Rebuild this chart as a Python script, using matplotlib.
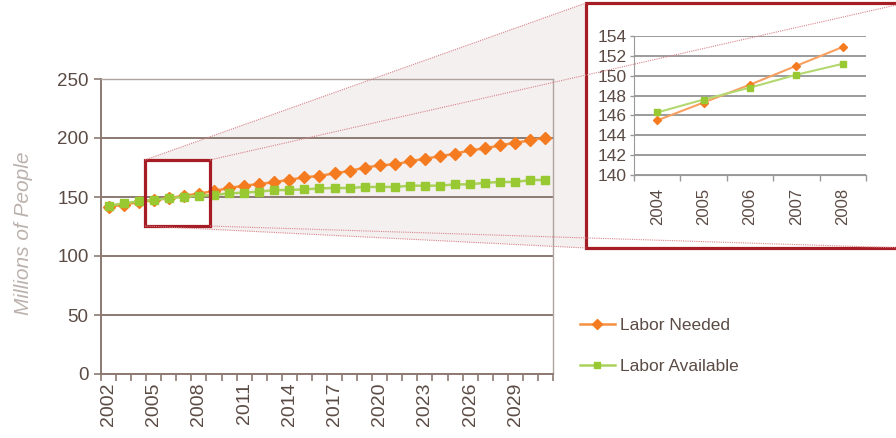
import matplotlib.pyplot as plt
from matplotlib.patches import Polygon, Rectangle
from matplotlib.lines import Line2D
import numpy as np

plt.rcParams['font.family'] = ['Liberation Sans', 'DejaVu Sans']

# workforce projection, millions of people
years = list(range(2002, 2032))
labor_needed = [141.5, 143.6, 145.5, 147.3, 149.1, 151.0, 152.9, 155.1, 157.6, 159.6,
                161.0, 162.6, 164.6, 166.7, 167.8, 170.1, 172.0, 174.9, 176.8, 177.7,
                180.2, 182.5, 184.5, 186.7, 189.6, 191.2, 193.8, 196.0, 198.0, 200.3]
labor_available = [142.6, 144.6, 146.3, 147.6, 148.8, 150.1, 151.2, 151.7, 153.1, 153.7,
                   154.5, 155.9, 155.9, 156.5, 157.3, 157.6, 157.6, 158.5, 158.5, 158.5,
                   159.6, 159.6, 159.6, 160.7, 160.7, 162.1, 162.7, 162.7, 164.4, 164.4]
year_labels = list(range(2002, 2030, 3))
zoom_years = [2004, 2005, 2006, 2007, 2008]

ORANGE = '#f47b20'
GREEN = '#98c832'
AXIS = '#8c7a72'
TEXT = '#5b4b45'
RED = '#a51c24'

W, H = 896, 438
fig = plt.figure(figsize=(W / 100, H / 100), dpi=100)

def fpx(x, y):
    # pixel position (top-left origin) -> figure fraction
    return x / W, (H - y) / H

ax = fig.add_axes([101 / W, 64 / H, 452 / W, 295 / H])
ax.set_facecolor('none')
ax.plot(years, labor_needed, color='#f69040', lw=1.8, marker='D', ms=6.3,
        mfc=ORANGE, mec=ORANGE, label='Labor Needed', zorder=3)
ax.plot(years, labor_available, color='#aad25a', lw=1.8, marker='s', ms=6,
        mfc=GREEN, mec=GREEN, label='Labor Available', zorder=4)
ax.set_xlim(2001.5, 2031.5)
ax.set_ylim(0, 250)
ax.set_yticks(range(0, 251, 50))
ax.set_xticks(year_labels)
ax.set_xticks(np.arange(2001.5, 2032, 1), minor=True)
ax.tick_params(axis='x', which='major', length=0, pad=6, labelrotation=90, labelsize=14, labelcolor=TEXT)
ax.tick_params(axis='x', which='minor', length=5, width=1.2, color=AXIS, direction='out')
ax.tick_params(axis='y', length=5, width=1.2, color=AXIS, labelsize=13.5, labelcolor=TEXT, pad=4)
ax.grid(axis='y', color=AXIS, lw=1.4)
ax.set_axisbelow(True)
for side, sp in ax.spines.items():
    sp.set_color(AXIS if side in ('left', 'bottom') else '#b0a49e')
    sp.set_linewidth(1.4 if side in ('left', 'bottom') else 1.0)

fig.text(24 / W, (H - 233) / H, 'Millions of People', rotation=90, ha='center', va='center',
         fontsize=15, style='italic', color='#bcb2ad')

# zoom rectangle on the main chart, data coordinates
bx0, bx1, by0, by1 = 2004.42, 2008.73, 125.4, 181.4
ax.add_patch(Rectangle((bx0, by0), bx1 - bx0, by1 - by0, fill=False, ec=RED, lw=2.3,
                       zorder=6, clip_on=False))

to_fig = ax.transData + fig.transFigure.inverted()
b_tl = to_fig.transform((bx0, by1))
b_tr = to_fig.transform((bx1, by1))
b_bl = to_fig.transform((bx0, by0))
b_br = to_fig.transform((bx1, by0))
f_tl, f_tr, f_bl, f_br = fpx(586, 3), fpx(905, 3), fpx(586, 248), fpx(905, 248)

shade = Polygon([b_tl, f_tl, f_tr, f_br, f_bl, b_bl, b_br, b_tr], closed=True,
                transform=fig.transFigure, fc='#f4f0f0', ec='none', zorder=-1)
fig.patches.append(shade)

fig.patches.append(Rectangle(f_bl, f_br[0] - f_bl[0], f_tl[1] - f_bl[1], transform=fig.transFigure,
                             fc='white', ec=RED, lw=2.3, zorder=1))

for a, b in [(b_tl, f_tl), (b_tr, f_tr), (b_bl, f_bl), (b_br, f_br)]:
    fig.lines.append(Line2D([a[0], b[0]], [a[1], b[1]], transform=fig.transFigure,
                            color='#d9848a', lw=0.8, ls=(0, (1, 1)), zorder=5))

# enlarged view 2004-2008
i0 = years.index(zoom_years[0])
i1 = years.index(zoom_years[-1]) + 1
axz = fig.add_axes([634 / W, 263 / H, 232 / W, 139 / H], zorder=2)
axz.set_facecolor('white')
axz.plot(zoom_years, labor_needed[i0:i1], color='#f8a060', lw=1.5, marker='D', ms=4.5,
         mfc=ORANGE, mec=ORANGE, zorder=3)
axz.plot(zoom_years, labor_available[i0:i1], color='#b4d870', lw=1.5, marker='s', ms=4.5,
         mfc=GREEN, mec=GREEN, zorder=3)
axz.set_xlim(2003.5, 2008.5)
axz.set_ylim(140, 154)
axz.set_yticks(range(140, 155, 2))
axz.set_xticks(zoom_years)
axz.set_xticks(np.arange(2003.5, 2009, 1), minor=True)
axz.tick_params(axis='x', which='major', length=0, pad=9, labelrotation=90, labelsize=12, labelcolor=TEXT)
axz.tick_params(axis='x', which='minor', length=4, width=1, color='#999999')
axz.tick_params(axis='y', length=3, width=1, color='#999999', labelsize=12.5, labelcolor=TEXT, pad=2)
axz.grid(axis='y', color='#8a8a8a', lw=1.2)
axz.set_axisbelow(True)
axz.spines['top'].set_visible(False)
axz.spines['right'].set_visible(False)
for side in ('left', 'bottom'):
    axz.spines[side].set_color('#999999')

handles, labels = ax.get_legend_handles_labels()
fig.legend(handles, labels, loc='center left', bbox_to_anchor=(580 / W, (H - 346) / H),
           frameon=False, fontsize=12.5, labelcolor=TEXT, handlelength=2.0, handletextpad=0.3,
           labelspacing=1.5, borderpad=0, borderaxespad=0, markerscale=0.8)

fig.savefig('out.png', dpi=100)
